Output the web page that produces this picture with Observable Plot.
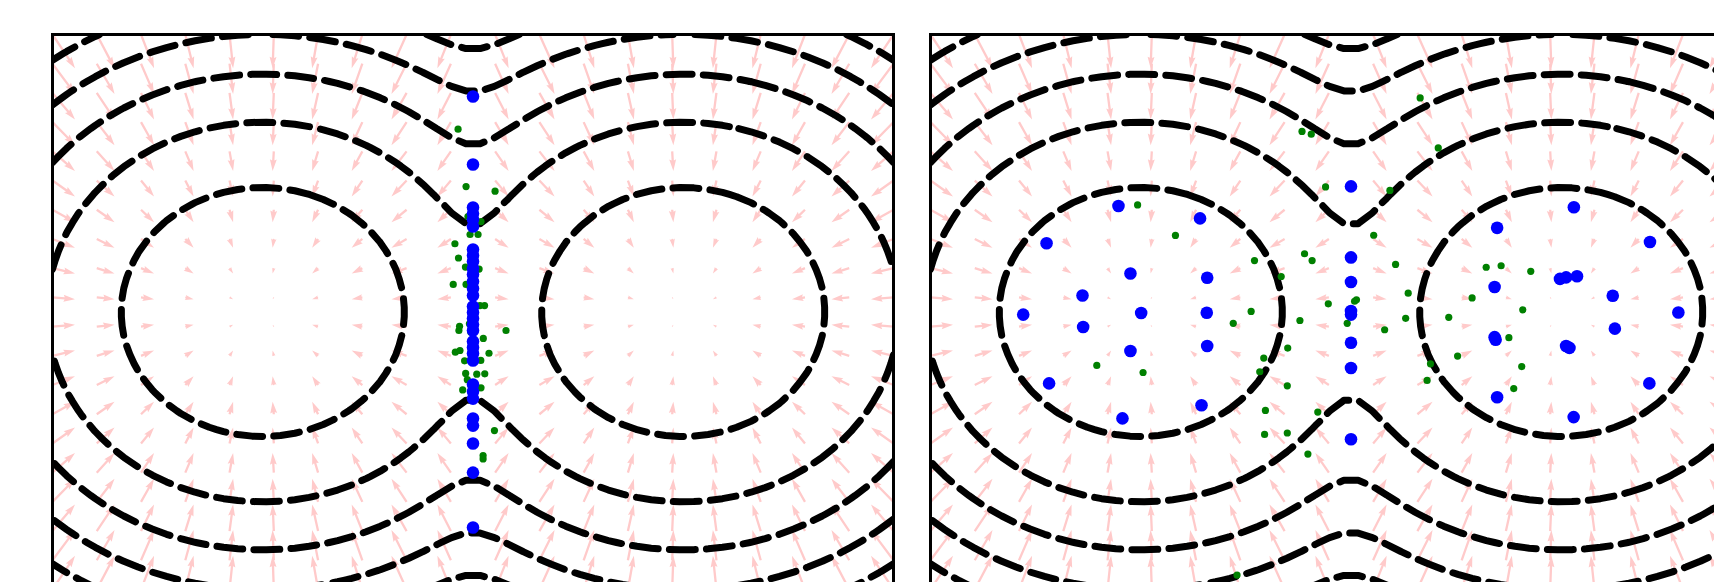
<!DOCTYPE html>
<html><head><meta charset="utf-8">
<script src="https://cdn.jsdelivr.net/npm/d3@7"></script>
<script src="https://cdn.jsdelivr.net/npm/@observablehq/plot@0.6"></script>
<style>
html,body{margin:0;padding:0;background:#fff;overflow:hidden;width:1714px;height:582px;}
#wrap{position:relative;width:1714px;height:582px;overflow:hidden;}
#wrap svg{position:absolute;top:0;max-width:none !important;background:transparent !important;}
</style></head><body><div id="wrap"></div>
<script>
// ---- model: two-component Gaussian mixture ----
const centersX = [-1, 1];
const centersY = [0, 0];
const sigma2 = 0.12;
const levels = [-12.3, -9.8, -7.3, -4.8, -2.3];
const xDomain = [-2, 2];
const yDomain = [-1.5, 1.5];
const quiverN = 20;
const contourN = 60;

// ---- samples ----
const leftBlueY = [1.165, 0.797, 0.565, 0.532, 0.5, 0.462, 0.338, 0.305, 0.273, 0.235, 0.203, 0.165, 0.127, 0.089, 0.03, -0.003, -0.035, -0.068, -0.1, -0.159, -0.192, -0.224, -0.262, -0.392, -0.43, -0.468, -0.576, -0.614, -0.711, -0.868, -1.165];
const leftGreen = [[-0.071,0.988],[-0.033,0.678],[0.105,0.653],[-0.024,0.516],[0.038,0.489],[-0.014,0.419],[0.024,0.419],[-0.086,0.369],[-0.069,0.292],[-0.036,0.243],[0.029,0.232],[-0.094,0.149],[-0.033,0.149],[0.033,0.035],[0.055,0.035],[-0.064,-0.077],[-0.067,-0.1],[-0.017,-0.064],[-0.01,-0.109],[0.157,-0.1],[0.049,-0.143],[-0.062,-0.208],[-0.084,-0.217],[0.076,-0.223],[-0.04,-0.264],[0.037,-0.262],[-0.035,-0.332],[0.018,-0.336],[0.056,-0.334],[-0.027,-0.366],[-0.049,-0.421],[0.038,-0.41],[0.102,-0.641],[0.048,-0.776],[0.048,-0.794]];
const rightBlue = [[-1.448,0.372],[-1.106,0.573],[-0.718,0.506],[-1.049,0.208],[-0.684,0.185],[-1.277,0.089],[-1.559,-0.014],[-0.998,-0.005],[-0.686,-0.004],[-1.274,-0.081],[-1.049,-0.211],[-0.684,-0.184],[-1.436,-0.386],[-0.711,-0.504],[-1.087,-0.575],
  [0.695,0.455],[1.06,0.566],[1.422,0.378],[0.683,0.135],[0.994,0.179],[1.023,0.187],[1.075,0.193],[1.245,0.088],[1.557,-0.003],[1.255,-0.09],[0.683,-0.136],[0.688,-0.15],[1.023,-0.184],[1.039,-0.194],[0.695,-0.461],[1.419,-0.386],[1.059,-0.568],
  [0,0.679],[0,0.295],[0,0.162],[0,0.005],[0,-0.014],[0,-0.166],[0,-0.303],[0,-0.688]];
const rightGreen = [[0.329,1.157],[-0.233,0.976],[-0.189,0.961],[0.415,0.887],[-1.015,0.579],[-0.835,0.414],[-0.121,0.676],[0.185,0.657],[0.108,0.415],[-0.459,0.278],[-0.221,0.315],[-0.185,0.278],[0.212,0.257],[0.643,0.242],[0.714,0.25],[0.855,0.22],[-0.332,0.192],[0.272,0.102],[0.576,0.076],[0.026,0.066],[0.017,0.058],[-0.108,0.044],[-0.475,0.003],[0.817,0.012],[-0.56,-0.061],[-0.243,-0.046],[0.465,-0.029],[0.26,-0.034],[-0.018,-0.061],[0.16,-0.096],[0.751,-0.139],[-0.301,-0.195],[-0.415,-0.249],[0.507,-0.238],[0.378,-0.28],[-1.209,-0.289],[-0.989,-0.327],[-0.434,-0.323],[0.812,-0.295],[0.362,-0.37],[-0.303,-0.399],[0.774,-0.414],[-0.407,-0.532],[-0.158,-0.541],[-0.411,-0.662],[-0.303,-0.654],[-0.205,-0.768],[-0.542,-1.422]];

// ---- helpers ----
function logp(x, y) {
  let s = 0;
  for (let i = 0; i < centersX.length; i++) {
    const d2 = (x - centersX[i]) ** 2 + (y - centersY[i]) ** 2;
    s += (1 / centersX.length) * Math.exp(-d2 / (2 * sigma2)) / (2 * Math.PI * sigma2);
  }
  return Math.log(s);
}
function score(x, y) {
  const w = centersX.map((cx, i) => Math.exp(-((x - cx) ** 2 + (y - centersY[i]) ** 2) / (2 * sigma2)));
  const tot = d3.sum(w);
  let u = 0, v = 0;
  w.forEach((wi, i) => { u += wi / tot * (centersX[i] - x); v += wi / tot * (centersY[i] - y); });
  return [u, v];
}

// contour lines on a linspace grid over the domain (marching squares)
const hx = (xDomain[1] - xDomain[0]) / (contourN - 1);
const hy = (yDomain[1] - yDomain[0]) / (contourN - 1);
const grid = new Float64Array(contourN * contourN);
for (let j = 0; j < contourN; j++) for (let i = 0; i < contourN; i++)
  grid[j * contourN + i] = logp(xDomain[0] + i * hx, yDomain[0] + j * hy);
const contourData = [];
let segId = 0;
const e = 1e-6;
const inside = (x, y) => x >= xDomain[0] - e && x <= xDomain[1] + e && y >= yDomain[0] - e && y <= yDomain[1] + e;
d3.contours().size([contourN, contourN]).thresholds(levels)(grid).forEach(mp => {
  mp.coordinates.forEach(poly => poly.forEach(ring => {
    let cur = null;
    ring.forEach(([px, py]) => {
      const x = xDomain[0] + (px - 0.5) * hx, y = yDomain[0] + (py - 0.5) * hy;
      if (inside(x, y)) {
        if (!cur) { cur = ++segId; }
        contourData.push({x, y, id: cur, level: mp.value});
      } else cur = null;
    });
  }));
});

// quiver
const quiver = [];
for (let i = 0; i < quiverN; i++) for (let j = 0; j < quiverN; j++) {
  const x = xDomain[0] + (xDomain[1] - xDomain[0]) * i / (quiverN - 1);
  const y = yDomain[0] + (yDomain[1] - yDomain[0]) * j / (quiverN - 1);
  const [u, v] = score(x, y);
  quiver.push({x, y, mag: Math.hypot(u, v), rot: Math.atan2(u, v) * 180 / Math.PI});
}

const arrowShape = {
  draw(ctx, l) {
    const w = 2.3, hl = 5 * w, hal = 4.5 * w, hw = 1.5 * w;
    const s = l < hl ? l / hl : 1;
    const a = w / 2 * s, b = hw * s, H = hl * s, HA = hal * s;
    ctx.moveTo(-a, 0); ctx.lineTo(-a, -(l - HA)); ctx.lineTo(-b, -(l - H));
    ctx.lineTo(0, -l); ctx.lineTo(b, -(l - H)); ctx.lineTo(a, -(l - HA)); ctx.lineTo(a, 0); ctx.closePath();
  }
};
const ver = (Plot.version || "0.6.0").split(".").map(Number);
const customOK = ver[0] > 0 || ver[1] > 6 || (ver[1] === 6 && ver[2] >= 2);

const W = 841, Hh = 555, MT = 34, MB = 12;
function panel(blue, green, ml, mr) {
  const vec = customOK
    ? Plot.vector(quiver, {x: "x", y: "y", length: "mag", rotate: "rot", anchor: "start", shape: arrowShape, fill: "#ffcaca", stroke: "none"})
    : Plot.vector(quiver, {x: "x", y: "y", length: "mag", rotate: "rot", anchor: "start", stroke: "#ffcaca", strokeWidth: 2});
  return Plot.plot({
    width: ml + W + mr, height: MT + Hh + MB,
    marginLeft: ml, marginRight: mr, marginTop: MT, marginBottom: MB,
    x: {domain: xDomain, axis: null},
    y: {domain: yDomain, axis: null},
    length: {type: "linear", domain: [0, 1], range: [0, 22.5]},
    marks: [
      vec,
      Plot.line(contourData, {x: "x", y: "y", z: "id", stroke: "black", strokeWidth: 7, strokeDasharray: "25.9,11.2", strokeLinejoin: "round", clip: true}),
      Plot.dot(green, {x: d => d[0], y: d => d[1], r: 3.6, fill: "green", stroke: "none"}),
      Plot.dot(blue, {x: d => d[0], y: d => d[1], r: 6.3, fill: "blue", stroke: "none"}),
      Plot.frame({stroke: "black", strokeWidth: 3})
    ]
  });
}
const wrap = document.getElementById("wrap");
const leftBlue = leftBlueY.map(y => [0, y]);
const s1 = panel(leftBlue, leftGreen, 52, 19);
s1.style.left = "0px";
wrap.appendChild(s1);
const s2 = panel(rightBlue, rightGreen, 18, 20);
s2.style.left = "912px";
wrap.appendChild(s2);
</script></body></html>
